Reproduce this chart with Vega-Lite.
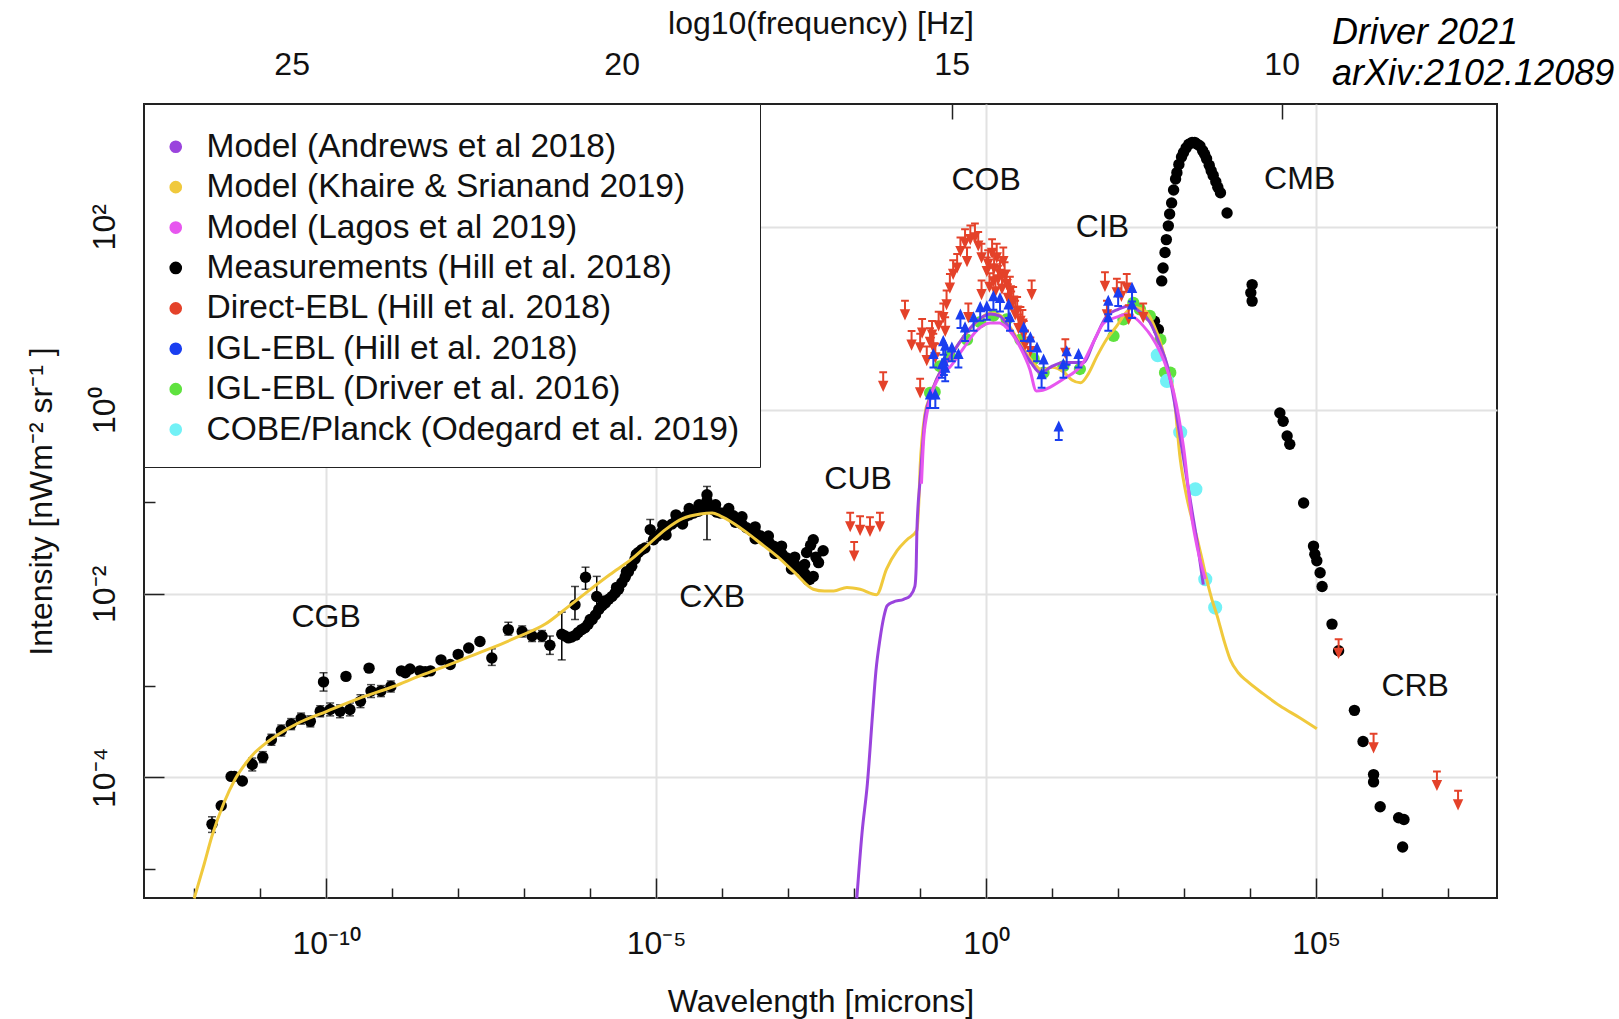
{
  "$schema": "https://vega.github.io/schema/vega-lite/v6.json",
  "width": 1353,
  "height": 794,
  "autosize": {"type": "none"},
  "padding": {"left": 144, "top": 104, "right": 122, "bottom": 121},
  "background": "white",
  "config": {
    "font": "Liberation Sans",
    "view": {"stroke": "#222", "strokeWidth": 2},
    "axis": {"domain": false, "labelFont": "Liberation Sans", "titleFont": "Liberation Sans", "labelColor": "#111", "titleColor": "#111", "titleFontWeight": "normal", "tickColor": "#222", "tickWidth": 1.5, "gridWidth": 2, "labelFlush": false, "labelOverlap": false}
  },
  "title": {"text": "Driver 2021", "subtitle": "arXiv:2102.12089", "anchor": "start", "frame": "group", "orient": "top", "dx": 1188, "dy": 86, "offset": 0, "font": "Liberation Sans", "fontSize": 36, "fontStyle": "italic", "fontWeight": "normal", "color": "#000", "subtitleFont": "Liberation Sans", "subtitleFontSize": 36, "subtitleFontStyle": "italic", "subtitleColor": "#000", "subtitlePadding": 5},
  "datasets": {
    "labels": [
      {"t": "CGB", "L": -10.0, "I": -2.25},
      {"t": "CXB", "L": -4.15, "I": -2.03},
      {"t": "CUB", "L": -1.94, "I": -0.75},
      {"t": "COB", "L": 0.0, "I": 2.51},
      {"t": "CIB", "L": 1.76, "I": 2.0},
      {"t": "CMB", "L": 4.75, "I": 2.52},
      {"t": "CRB", "L": 6.5, "I": -3.01}
    ],
    "khaire": [
      {"L": -12.0, "I": -5.32}, {"L": -11.85, "I": -4.95}, {"L": -11.73, "I": -4.64}, {"L": -11.55, "I": -4.28}, {"L": -11.38, "I": -4.02}, {"L": -11.2, "I": -3.83}, {"L": -11.08, "I": -3.73}, {"L": -10.9, "I": -3.62}, {"L": -10.72, "I": -3.53}, {"L": -10.4, "I": -3.4}, {"L": -9.99, "I": -3.28}, {"L": -9.5, "I": -3.14}, {"L": -8.98, "I": -3.01}, {"L": -8.6, "I": -2.9}, {"L": -8.2, "I": -2.79}, {"L": -7.85, "I": -2.69}, {"L": -7.49, "I": -2.59}, {"L": -7.1, "I": -2.47}, {"L": -6.68, "I": -2.33}, {"L": -6.35, "I": -2.15}, {"L": -6.03, "I": -1.97}, {"L": -5.7, "I": -1.79}, {"L": -5.37, "I": -1.62}, {"L": -5.1, "I": -1.45}, {"L": -4.86, "I": -1.3}, {"L": -4.6, "I": -1.18}, {"L": -4.33, "I": -1.13}, {"L": -4.15, "I": -1.12}, {"L": -4.03, "I": -1.15}, {"L": -3.83, "I": -1.23}, {"L": -3.63, "I": -1.33}, {"L": -3.4, "I": -1.46}, {"L": -3.17, "I": -1.59}, {"L": -2.9, "I": -1.77}, {"L": -2.62, "I": -1.95}, {"L": -2.45, "I": -1.97}, {"L": -2.31, "I": -1.97}, {"L": -2.11, "I": -1.93}, {"L": -1.91, "I": -1.95}, {"L": -1.66, "I": -2.01}, {"L": -1.51, "I": -1.73}, {"L": -1.35, "I": -1.53}, {"L": -1.2, "I": -1.41}, {"L": -1.05, "I": -1.31}, {"L": -1.02, "I": -1.0}, {"L": -1.0, "I": -0.61}, {"L": -0.97, "I": -0.3}, {"L": -0.93, "I": -0.05}, {"L": -0.85, "I": 0.15}, {"L": -0.75, "I": 0.34}, {"L": -0.6, "I": 0.52}, {"L": -0.44, "I": 0.7}, {"L": -0.25, "I": 0.88}, {"L": -0.05, "I": 1.02}, {"L": 0.06, "I": 1.06}, {"L": 0.2, "I": 1.04}, {"L": 0.35, "I": 0.92}, {"L": 0.52, "I": 0.72}, {"L": 0.68, "I": 0.55}, {"L": 0.85, "I": 0.44}, {"L": 1.0, "I": 0.47}, {"L": 1.17, "I": 0.42}, {"L": 1.3, "I": 0.33}, {"L": 1.43, "I": 0.3}, {"L": 1.55, "I": 0.4}, {"L": 1.68, "I": 0.59}, {"L": 1.83, "I": 0.78}, {"L": 1.98, "I": 0.92}, {"L": 2.1, "I": 1.05}, {"L": 2.23, "I": 1.12}, {"L": 2.33, "I": 1.11}, {"L": 2.43, "I": 1.07}, {"L": 2.54, "I": 0.93}, {"L": 2.64, "I": 0.74}, {"L": 2.74, "I": 0.48}, {"L": 2.84, "I": 0.19}, {"L": 2.94, "I": -0.53}, {"L": 3.04, "I": -0.95}, {"L": 3.12, "I": -1.19}, {"L": 3.19, "I": -1.38}, {"L": 3.27, "I": -1.62}, {"L": 3.34, "I": -1.84}, {"L": 3.42, "I": -2.06}, {"L": 3.5, "I": -2.24}, {"L": 3.6, "I": -2.5}, {"L": 3.7, "I": -2.72}, {"L": 3.82, "I": -2.86}, {"L": 3.95, "I": -2.95}, {"L": 4.2, "I": -3.09}, {"L": 4.45, "I": -3.22}, {"L": 4.75, "I": -3.35}, {"L": 5.01, "I": -3.47}
    ],
    "andrews": [
      {"L": -1.96, "I": -5.32}, {"L": -1.88, "I": -4.6}, {"L": -1.8, "I": -4.07}, {"L": -1.72, "I": -3.3}, {"L": -1.67, "I": -2.84}, {"L": -1.61, "I": -2.5}, {"L": -1.55, "I": -2.25}, {"L": -1.5, "I": -2.13}, {"L": -1.41, "I": -2.09}, {"L": -1.25, "I": -2.06}, {"L": -1.15, "I": -2.02}, {"L": -1.08, "I": -1.92}, {"L": -1.06, "I": -1.7}, {"L": -1.05, "I": -1.33}, {"L": -1.0, "I": -0.75}, {"L": -0.97, "I": -0.45}, {"L": -0.93, "I": -0.1}, {"L": -0.85, "I": 0.14}, {"L": -0.75, "I": 0.34}, {"L": -0.6, "I": 0.52}, {"L": -0.44, "I": 0.7}, {"L": -0.25, "I": 0.89}, {"L": -0.05, "I": 1.02}, {"L": 0.06, "I": 1.05}, {"L": 0.2, "I": 1.03}, {"L": 0.35, "I": 0.9}, {"L": 0.52, "I": 0.7}, {"L": 0.68, "I": 0.52}, {"L": 0.82, "I": 0.41}, {"L": 1.0, "I": 0.48}, {"L": 1.17, "I": 0.52}, {"L": 1.47, "I": 0.52}, {"L": 1.65, "I": 0.78}, {"L": 1.83, "I": 1.03}, {"L": 2.0, "I": 1.1}, {"L": 2.18, "I": 1.14}, {"L": 2.33, "I": 1.07}, {"L": 2.48, "I": 0.96}, {"L": 2.64, "I": 0.7}, {"L": 2.74, "I": 0.5}, {"L": 2.84, "I": 0.14}, {"L": 2.94, "I": -0.3}, {"L": 3.04, "I": -0.75}, {"L": 3.12, "I": -1.1}, {"L": 3.2, "I": -1.45}, {"L": 3.29, "I": -1.9}
    ],
    "lagos": [
      {"L": -0.98, "I": -0.8}, {"L": -0.95, "I": -0.35}, {"L": -0.9, "I": -0.05}, {"L": -0.85, "I": 0.12}, {"L": -0.7, "I": 0.38}, {"L": -0.55, "I": 0.47}, {"L": -0.34, "I": 0.68}, {"L": -0.14, "I": 0.87}, {"L": 0.06, "I": 0.95}, {"L": 0.2, "I": 0.95}, {"L": 0.31, "I": 0.9}, {"L": 0.52, "I": 0.68}, {"L": 0.66, "I": 0.45}, {"L": 0.76, "I": 0.21}, {"L": 1.17, "I": 0.34}, {"L": 1.47, "I": 0.52}, {"L": 1.63, "I": 0.75}, {"L": 1.78, "I": 0.95}, {"L": 2.0, "I": 1.02}, {"L": 2.13, "I": 1.05}, {"L": 2.25, "I": 1.01}, {"L": 2.38, "I": 0.92}, {"L": 2.51, "I": 0.8}, {"L": 2.64, "I": 0.63}, {"L": 2.74, "I": 0.45}, {"L": 2.84, "I": 0.2}, {"L": 2.99, "I": -0.4}, {"L": 3.12, "I": -1.19}, {"L": 3.2, "I": -1.5}, {"L": 3.32, "I": -1.84}
    ],
    "meas": [
      {"L": -11.73, "I": -4.51}, {"L": -11.59, "I": -4.31}, {"L": -11.44, "I": -3.99}, {"L": -11.39, "I": -3.99}, {"L": -11.27, "I": -4.04}, {"L": -11.12, "I": -3.86}, {"L": -10.96, "I": -3.78}, {"L": -10.83, "I": -3.59}, {"L": -10.68, "I": -3.49}, {"L": -10.53, "I": -3.42}, {"L": -10.38, "I": -3.36}, {"L": -10.24, "I": -3.39}, {"L": -10.09, "I": -3.28}, {"L": -10.04, "I": -2.96}, {"L": -9.94, "I": -3.26}, {"L": -9.79, "I": -3.28}, {"L": -9.7, "I": -2.9}, {"L": -9.64, "I": -3.26}, {"L": -9.48, "I": -3.17}, {"L": -9.35, "I": -2.81}, {"L": -9.32, "I": -3.06}, {"L": -9.17, "I": -3.06}, {"L": -9.02, "I": -3.01}, {"L": -8.86, "I": -2.84}, {"L": -8.8, "I": -2.86}, {"L": -8.73, "I": -2.82}, {"L": -8.58, "I": -2.84}, {"L": -8.5, "I": -2.85}, {"L": -8.42, "I": -2.84}, {"L": -8.26, "I": -2.72}, {"L": -8.12, "I": -2.77}, {"L": -8.0, "I": -2.66}, {"L": -7.84, "I": -2.59}, {"L": -7.67, "I": -2.52}, {"L": -7.49, "I": -2.7}, {"L": -7.24, "I": -2.39}, {"L": -7.03, "I": -2.41}, {"L": -6.88, "I": -2.46}, {"L": -6.73, "I": -2.46}, {"L": -6.61, "I": -2.56}, {"L": -6.43, "I": -2.44}, {"L": -6.38, "I": -2.46}, {"L": -6.33, "I": -2.48}, {"L": -6.23, "I": -2.12}, {"L": -6.07, "I": -1.82}, {"L": -5.9, "I": -2.03},
      {"L": -6.28, "I": -2.47}, {"L": -6.22, "I": -2.45}, {"L": -6.18, "I": -2.42}, {"L": -6.13, "I": -2.39}, {"L": -6.08, "I": -2.37}, {"L": -6.03, "I": -2.33}, {"L": -5.97, "I": -2.28}, {"L": -5.92, "I": -2.23}, {"L": -5.87, "I": -2.17}, {"L": -5.82, "I": -2.13}, {"L": -5.77, "I": -2.1}, {"L": -5.72, "I": -2.06}, {"L": -5.67, "I": -2.03}, {"L": -5.62, "I": -1.99}, {"L": -5.57, "I": -1.95}, {"L": -5.52, "I": -1.88}, {"L": -5.47, "I": -1.82}, {"L": -5.42, "I": -1.76}, {"L": -5.37, "I": -1.7}, {"L": -5.32, "I": -1.62}, {"L": -5.27, "I": -1.55}, {"L": -5.22, "I": -1.52}, {"L": -5.17, "I": -1.5}, {"L": -5.09, "I": -1.3}, {"L": -6.0, "I": -2.28}, {"L": -5.8, "I": -2.08}, {"L": -5.6, "I": -1.93}, {"L": -5.45, "I": -1.76}, {"L": -5.3, "I": -1.57},
      {"L": -5.04, "I": -1.41}, {"L": -4.98, "I": -1.37}, {"L": -4.92, "I": -1.33}, {"L": -4.84, "I": -1.28}, {"L": -4.76, "I": -1.24}, {"L": -4.7, "I": -1.21}, {"L": -4.64, "I": -1.19}, {"L": -4.56, "I": -1.16}, {"L": -4.5, "I": -1.14}, {"L": -4.43, "I": -1.12}, {"L": -4.36, "I": -1.1}, {"L": -4.3, "I": -1.08}, {"L": -4.23, "I": -0.99}, {"L": -4.23, "I": -0.92}, {"L": -4.18, "I": -1.07}, {"L": -4.12, "I": -1.09}, {"L": -4.08, "I": -1.11}, {"L": -4.03, "I": -1.12}, {"L": -3.97, "I": -1.12}, {"L": -3.9, "I": -1.13}, {"L": -3.83, "I": -1.15}, {"L": -3.76, "I": -1.2}, {"L": -3.7, "I": -1.24}, {"L": -3.63, "I": -1.28}, {"L": -3.56, "I": -1.31}, {"L": -3.49, "I": -1.34}, {"L": -3.42, "I": -1.37}, {"L": -3.35, "I": -1.41}, {"L": -3.29, "I": -1.44}, {"L": -3.22, "I": -1.48}, {"L": -3.15, "I": -1.53}, {"L": -3.09, "I": -1.57}, {"L": -3.02, "I": -1.61}, {"L": -2.95, "I": -1.65}, {"L": -2.89, "I": -1.69}, {"L": -2.82, "I": -1.73}, {"L": -2.75, "I": -1.78}, {"L": -2.67, "I": -1.84}, {"L": -2.62, "I": -1.81}, {"L": -2.62, "I": -1.41}, {"L": -2.66, "I": -1.47}, {"L": -2.72, "I": -1.55}, {"L": -2.47, "I": -1.53}, {"L": -2.54, "I": -1.66}, {"L": -2.58, "I": -1.6},
      {"L": -4.9, "I": -1.25}, {"L": -4.7, "I": -1.14}, {"L": -4.5, "I": -1.07}, {"L": -4.35, "I": -1.03}, {"L": -4.1, "I": -1.03}, {"L": -3.9, "I": -1.07}, {"L": -3.7, "I": -1.16}, {"L": -3.5, "I": -1.27}, {"L": -3.3, "I": -1.37}, {"L": -3.1, "I": -1.48}, {"L": -2.9, "I": -1.6}, {"L": -2.75, "I": -1.68}, {"L": -3.8, "I": -1.22}, {"L": -3.5, "I": -1.4}, {"L": -3.2, "I": -1.56}, {"L": -2.95, "I": -1.73}, {"L": -2.7, "I": -1.85}, {"L": -4.6, "I": -1.24}, {"L": -4.85, "I": -1.36},
      {"L": 2.55, "I": 0.97}, {"L": 2.61, "I": 0.88},
      {"L": 2.66, "I": 1.41}, {"L": 2.68, "I": 1.55}, {"L": 2.71, "I": 1.72}, {"L": 2.73, "I": 1.86}, {"L": 2.76, "I": 2.01}, {"L": 2.78, "I": 2.14}, {"L": 2.81, "I": 2.26}, {"L": 2.84, "I": 2.4}, {"L": 2.87, "I": 2.52}, {"L": 2.89, "I": 2.59}, {"L": 2.92, "I": 2.68}, {"L": 2.96, "I": 2.76}, {"L": 2.99, "I": 2.81}, {"L": 3.03, "I": 2.86}, {"L": 3.07, "I": 2.9}, {"L": 3.12, "I": 2.92}, {"L": 3.16, "I": 2.92}, {"L": 3.2, "I": 2.9}, {"L": 3.24, "I": 2.88}, {"L": 3.28, "I": 2.83}, {"L": 3.31, "I": 2.79}, {"L": 3.34, "I": 2.74}, {"L": 3.38, "I": 2.67}, {"L": 3.41, "I": 2.61}, {"L": 3.44, "I": 2.56}, {"L": 3.48, "I": 2.49}, {"L": 3.51, "I": 2.43}, {"L": 3.55, "I": 2.37}, {"L": 3.65, "I": 2.15},
      {"L": 4.03, "I": 1.37}, {"L": 4.01, "I": 1.28}, {"L": 4.03, "I": 1.19}, {"L": 4.45, "I": -0.03}, {"L": 4.5, "I": -0.12}, {"L": 4.56, "I": -0.28}, {"L": 4.6, "I": -0.37}, {"L": 4.81, "I": -1.01}, {"L": 4.96, "I": -1.48}, {"L": 4.98, "I": -1.57}, {"L": 5.01, "I": -1.64}, {"L": 5.06, "I": -1.77}, {"L": 5.09, "I": -1.92}, {"L": 5.24, "I": -2.33}, {"L": 5.34, "I": -2.62}, {"L": 5.58, "I": -3.27}, {"L": 5.71, "I": -3.61}, {"L": 5.87, "I": -3.97}, {"L": 5.87, "I": -4.05}, {"L": 5.97, "I": -4.32}, {"L": 6.25, "I": -4.44}, {"L": 6.33, "I": -4.46}, {"L": 6.31, "I": -4.76}
    ],
    "err": [
      {"L": -11.73, "lo": -4.6, "hi": -4.43}, {"L": -11.12, "lo": -3.93, "hi": -3.79}, {"L": -10.96, "lo": -3.84, "hi": -3.72}, {"L": -10.83, "lo": -3.65, "hi": -3.53}, {"L": -10.68, "lo": -3.55, "hi": -3.43}, {"L": -10.53, "lo": -3.48, "hi": -3.36}, {"L": -10.38, "lo": -3.42, "hi": -3.3}, {"L": -10.24, "lo": -3.45, "hi": -3.33}, {"L": -10.09, "lo": -3.34, "hi": -3.22}, {"L": -10.04, "lo": -3.06, "hi": -2.86}, {"L": -9.94, "lo": -3.33, "hi": -3.19}, {"L": -9.79, "lo": -3.35, "hi": -3.21}, {"L": -9.64, "lo": -3.33, "hi": -3.19}, {"L": -9.48, "lo": -3.24, "hi": -3.1}, {"L": -9.32, "lo": -3.13, "hi": -2.99}, {"L": -9.17, "lo": -3.12, "hi": -3.0}, {"L": -9.02, "lo": -3.07, "hi": -2.95}, {"L": -7.49, "lo": -2.78, "hi": -2.6}, {"L": -7.24, "lo": -2.45, "hi": -2.31}, {"L": -7.03, "lo": -2.47, "hi": -2.35}, {"L": -6.88, "lo": -2.52, "hi": -2.4}, {"L": -6.73, "lo": -2.52, "hi": -2.4}, {"L": -6.61, "lo": -2.66, "hi": -2.46}, {"L": -6.43, "lo": -2.72, "hi": -2.2}, {"L": -6.23, "lo": -2.28, "hi": -1.92}, {"L": -6.07, "lo": -1.95, "hi": -1.71}, {"L": -5.9, "lo": -2.25, "hi": -1.81}, {"L": -5.09, "lo": -1.43, "hi": -1.19}, {"L": -4.23, "lo": -1.41, "hi": -0.83}
    ],
    "direct": [
      {"L": -2.06, "I": -1.21}, {"L": -1.91, "I": -1.25}, {"L": -1.76, "I": -1.26}, {"L": -1.61, "I": -1.21}, {"L": -2.0, "I": -1.53},
      {"L": -1.56, "I": 0.32}, {"L": -1.23, "I": 1.1}, {"L": -1.13, "I": 0.77}, {"L": -1.0, "I": 0.74}, {"L": -1.0, "I": 0.25}, {"L": -0.97, "I": 0.9}, {"L": -0.82, "I": 0.88}, {"L": -0.8, "I": 0.74}, {"L": -0.77, "I": 0.63}, {"L": -0.65, "I": 1.07}, {"L": -0.62, "I": 0.92}, {"L": -0.6, "I": 1.21}, {"L": -0.55, "I": 1.39}, {"L": -0.5, "I": 1.54}, {"L": -0.44, "I": 1.61}, {"L": -0.39, "I": 1.79}, {"L": -0.32, "I": 1.88}, {"L": -0.24, "I": 1.92}, {"L": -0.17, "I": 1.94}, {"L": -0.29, "I": 1.68}, {"L": -0.27, "I": 1.07}, {"L": -0.07, "I": 1.72}, {"L": -0.07, "I": 1.32}, {"L": 0.01, "I": 1.57}, {"L": 0.09, "I": 1.77}, {"L": 0.16, "I": 1.72}, {"L": 0.11, "I": 1.46}, {"L": 0.21, "I": 1.54}, {"L": 0.26, "I": 1.68}, {"L": 0.31, "I": 1.43}, {"L": 0.36, "I": 1.36}, {"L": 0.41, "I": 1.25}, {"L": 0.47, "I": 1.14}, {"L": 0.52, "I": 1.03}, {"L": 0.57, "I": 0.88}, {"L": 0.59, "I": 0.77}, {"L": 0.69, "I": 1.32}, {"L": 0.67, "I": 0.7}, {"L": 1.2, "I": 0.68},
      {"L": 0.05, "I": 1.4}, {"L": 0.12, "I": 1.6}, {"L": 0.18, "I": 1.48}, {"L": 0.24, "I": 1.38}, {"L": 0.28, "I": 1.52}, {"L": 0.33, "I": 1.28}, {"L": 0.38, "I": 1.2}, {"L": 0.44, "I": 1.1}, {"L": 0.49, "I": 0.95}, {"L": 0.55, "I": 1.0}, {"L": 0.03, "I": 1.65}, {"L": 0.14, "I": 1.35}, {"L": -0.12, "I": 1.85}, {"L": -0.85, "I": 0.8}, {"L": -0.9, "I": 0.6}, {"L": -0.72, "I": 0.98},
      {"L": 1.8, "I": 1.41}, {"L": 1.98, "I": 1.34}, {"L": 2.13, "I": 1.39}, {"L": 2.16, "I": 1.05}, {"L": 2.38, "I": 1.07}, {"L": 1.83, "I": 1.1}, {"L": 2.05, "I": 1.3},
      {"L": 5.34, "I": -2.59}, {"L": 5.87, "I": -3.62}, {"L": 6.83, "I": -4.03}, {"L": 7.15, "I": -4.24}
    ],
    "iglhill": [
      {"L": -0.85, "I": 0.12}, {"L": -0.8, "I": 0.56}, {"L": -0.77, "I": 0.12}, {"L": -0.67, "I": 0.45}, {"L": -0.62, "I": 0.65}, {"L": -0.62, "I": 0.41}, {"L": -0.52, "I": 0.63}, {"L": -0.42, "I": 0.56}, {"L": -0.39, "I": 0.99}, {"L": -0.32, "I": 0.85}, {"L": -0.19, "I": 0.96}, {"L": -0.09, "I": 1.07}, {"L": 0.01, "I": 1.08}, {"L": 0.11, "I": 1.19}, {"L": 0.21, "I": 1.17}, {"L": 0.34, "I": 1.1}, {"L": 0.36, "I": 0.96}, {"L": 0.57, "I": 0.85}, {"L": 0.67, "I": 0.74}, {"L": 0.77, "I": 0.63}, {"L": 0.87, "I": 0.5}, {"L": 0.84, "I": 0.34}, {"L": 1.17, "I": 0.45}, {"L": 1.22, "I": 0.59}, {"L": 1.4, "I": 0.56}, {"L": 1.1, "I": -0.23}, {"L": 1.85, "I": 1.14}, {"L": 1.85, "I": 0.96}, {"L": 2.0, "I": 1.23}, {"L": 2.21, "I": 1.28}, {"L": 2.21, "I": 1.1}, {"L": -0.65, "I": 0.7}, {"L": -0.64, "I": 0.48}
    ],
    "igldriver": [
      {"L": -0.85, "I": 0.19}, {"L": -0.78, "I": 0.2}, {"L": -0.7, "I": 0.48}, {"L": -0.55, "I": 0.59}, {"L": -0.29, "I": 0.77}, {"L": -0.09, "I": 0.96}, {"L": 0.11, "I": 1.03}, {"L": 0.31, "I": 0.99}, {"L": 0.52, "I": 0.77}, {"L": 0.72, "I": 0.56}, {"L": 0.87, "I": 0.41}, {"L": 1.17, "I": 0.48}, {"L": 1.42, "I": 0.45}, {"L": 1.93, "I": 0.81}, {"L": 2.08, "I": 0.99}, {"L": 2.23, "I": 1.17}, {"L": 2.33, "I": 1.1}, {"L": 2.48, "I": 1.03}, {"L": 2.64, "I": 0.77}, {"L": 2.71, "I": 0.41}, {"L": 2.79, "I": 0.41}
    ],
    "cobe": [
      {"L": 2.6, "I": 0.6}, {"L": 2.74, "I": 0.32}, {"L": 2.94, "I": -0.24}, {"L": 3.17, "I": -0.86}, {"L": 3.32, "I": -1.84}, {"L": 3.47, "I": -2.15}
    ]
  },
  "encoding": {
    "x": {"field": "L", "type": "quantitative", "scale": {"domain": [-12.76, 7.74], "nice": false, "zero": false}, "axis": null},
    "y": {"field": "I", "type": "quantitative", "scale": {"domain": [-5.315, 3.338], "nice": false, "zero": false}, "axis": null}
  },
  "layer": [
    {
      "data": {"name": "labels"},
      "mark": {"type": "text", "fontSize": 32, "font": "Liberation Sans", "color": "#111", "align": "center", "baseline": "middle"},
      "encoding": {
        "text": {"field": "t"},
        "x": {"field": "L", "type": "quantitative", "scale": {"domain": [-12.76, 7.74], "nice": false, "zero": false},
          "axis": {"orient": "bottom", "title": "Wavelength [microns]", "values": [-12, -11, -10, -9, -8, -7, -6, -5, -4, -3, -2, -1, 0, 1, 2, 3, 4, 5, 6, 7],
            "labelExpr": "datum.value == -10 ? '10⁻¹⁰' : datum.value == -5 ? '10⁻⁵' : datum.value == 0 ? '10⁰' : datum.value == 5 ? '10⁵' : ''",
            "labelFontSize": 32, "labelBaseline": "alphabetic", "labelPadding": 75,
            "tickSize": {"condition": {"test": "datum.value % 5 === 0", "value": -20}, "value": -10},
            "grid": true, "gridColor": {"condition": {"test": "datum.value % 5 === 0", "value": "#e2e2e2"}, "value": "transparent"},
            "titleFontSize": 32, "titlePadding": 17}},
        "y": {"field": "I", "type": "quantitative", "scale": {"domain": [-5.315, 3.338], "nice": false, "zero": false},
          "axis": {"orient": "left", "title": "Intensity [nWm⁻² sr⁻¹ ]", "values": [-5, -4, -3, -2, -1, 0, 1, 2, 3],
            "labelExpr": "datum.value == 2 ? '10²' : datum.value == 0 ? '10⁰' : datum.value == -2 ? '10⁻²' : datum.value == -4 ? '10⁻⁴' : ''",
            "labelFontSize": 32, "labelAngle": -90, "labelAlign": "center", "labelBaseline": "alphabetic", "labelPadding": 50,
            "tickSize": {"condition": {"test": "datum.value % 2 === 0", "value": -20}, "value": -11},
            "grid": true, "gridColor": {"condition": {"test": "datum.value % 2 === 0", "value": "#e2e2e2"}, "value": "transparent"},
            "titleFontSize": 32, "titlePadding": 21}}
      }
    },
    {
      "data": {"name": "labels"},
      "mark": {"type": "point", "opacity": 0},
      "encoding": {
        "x": {"field": "L", "type": "quantitative", "scale": {"domain": [-12.76, 7.74], "nice": false, "zero": false},
          "axis": {"orient": "top", "title": "log10(frequency) [Hz]", "values": [-10.5232, -5.5232, -0.5232, 4.4768],
            "labelExpr": "format(14.4768 - datum.value, '.0f')",
            "labelFontSize": 32, "labelBaseline": "alphabetic", "labelPadding": 45, "tickSize": -15, "grid": false,
            "titleFontSize": 32, "titlePadding": 8}}
      }
    },
    {
      "data": {"name": "err"},
      "mark": {"type": "errorbar", "ticks": true, "thickness": 1.5, "size": 8, "color": "#000"},
      "encoding": {
        "y": {"field": "lo", "type": "quantitative", "scale": {"domain": [-5.315, 3.338], "nice": false, "zero": false}, "axis": null},
        "y2": {"field": "hi"}
      }
    },
    {
      "data": {"name": "meas"},
      "mark": {"type": "circle", "size": 130, "opacity": 1},
      "encoding": {
        "color": {"datum": "Measurements (Hill et al. 2018)", "type": "nominal",
          "scale": {"domain": ["Model (Andrews et al 2018)", "Model (Khaire & Srianand 2019)", "Model (Lagos et al 2019)", "Measurements (Hill et al. 2018)", "Direct-EBL (Hill et al. 2018)", "IGL-EBL (Hill et al. 2018)", "IGL-EBL (Driver et al. 2016)", "COBE/Planck (Odegard et al. 2019)"],
            "range": ["#9a44dd", "#f0c93c", "#e756ef", "#000000", "#e4422a", "#1a3ef0", "#5fe23f", "#72f1f6"]},
          "legend": {"title": " ", "titleFontSize": 1, "titlePadding": 5, "orient": "top-left", "offset": 0, "padding": 20, "fillColor": "white", "strokeColor": "#222",
            "symbolType": "circle", "symbolSize": 160, "symbolOffset": -5, "symbolStrokeWidth": 0,
            "labelFont": "Liberation Sans", "labelFontSize": 33.5, "labelColor": "#111", "labelOffset": 14, "labelLimit": 800, "rowPadding": 5.4,
            "encode": {"legend": {"update": {"strokeWidth": {"value": 2}}}, "symbols": {"update": {"fill": {"scale": "color", "field": "value"}, "fillOpacity": {"value": 1}, "stroke": {"value": "transparent"}, "opacity": {"value": 1}}}}}}
      }
    },
    {
      "data": {"name": "igldriver"},
      "mark": {"type": "circle", "size": 150, "opacity": 1},
      "encoding": {"color": {"datum": "IGL-EBL (Driver et al. 2016)", "type": "nominal", "legend": null}}
    },
    {
      "data": {"name": "cobe"},
      "mark": {"type": "circle", "size": 200, "opacity": 1},
      "encoding": {"color": {"datum": "COBE/Planck (Odegard et al. 2019)", "type": "nominal", "legend": null}}
    },
    {
      "data": {"name": "khaire"},
      "mark": {"type": "line", "strokeWidth": 3, "interpolate": "monotone"},
      "encoding": {"color": {"datum": "Model (Khaire & Srianand 2019)", "type": "nominal", "legend": null}}
    },
    {
      "data": {"name": "andrews"},
      "mark": {"type": "line", "strokeWidth": 3, "interpolate": "monotone"},
      "encoding": {"color": {"datum": "Model (Andrews et al 2018)", "type": "nominal", "legend": null}}
    },
    {
      "data": {"name": "lagos"},
      "mark": {"type": "line", "strokeWidth": 3, "interpolate": "monotone"},
      "encoding": {"color": {"datum": "Model (Lagos et al 2019)", "type": "nominal", "legend": null}}
    },
    {
      "data": {"name": "direct"},
      "mark": {"type": "point", "shape": "M-0.45,-1H0.45M0,-1V0.4M-0.42,0.1L0,1L0.42,0.1Z", "filled": true, "size": 300, "strokeWidth": 2, "stroke": "#e4422a", "opacity": 1},
      "encoding": {"color": {"datum": "Direct-EBL (Hill et al. 2018)", "type": "nominal", "legend": null}}
    },
    {
      "data": {"name": "iglhill"},
      "mark": {"type": "point", "shape": "M-0.45,1H0.45M0,1V-0.4M-0.42,-0.1L0,-1L0.42,-0.1Z", "filled": true, "size": 300, "strokeWidth": 2, "stroke": "#1a3ef0", "opacity": 1},
      "encoding": {"color": {"datum": "IGL-EBL (Hill et al. 2018)", "type": "nominal", "legend": null}}
    }
  ],
  "resolve": {"axis": {"x": "independent", "y": "independent"}}
}
